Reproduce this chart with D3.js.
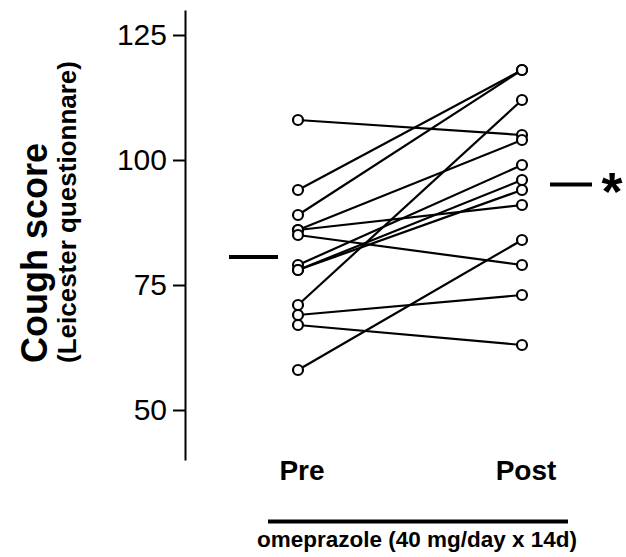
<!DOCTYPE html>
<html>
<head>
<meta charset="utf-8">
<script src="https://cdn.jsdelivr.net/npm/d3@7"></script>
<style>
  body { margin: 0; background: #fff; }
  svg { font-family: "Liberation Sans", Arial, sans-serif; }
</style>
</head>
<body>
<div id="chart"></div>
<script>
// paired cough scores, one entry per subject
var preScores  = [108, 94, 89, 86, 86, 85, 79, 78, 78, 71, 69, 67, 58];
var postScores = [105, 118, 118, 104, 91, 79, 99, 96, 94, 112, 73, 63, 84];
var groups = ["Pre", "Post"];
var yTicks = [50, 75, 100, 125];

var svgW = 626, svgH = 557;
var svg = d3.select("#chart").append("svg").attr("width", svgW).attr("height", svgH);

var xScale = d3.scalePoint().domain(groups).range([298, 522]);
var yScale = d3.scaleLinear().domain([40, 130]).range([460, 10]);

var yAxis = d3.axisLeft(yScale).tickValues(yTicks).tickSize(12).tickPadding(6).tickSizeOuter(0);
var gy = svg.append("g").attr("transform", "translate(185,0)").call(yAxis);
gy.select(".domain").attr("stroke", "#000").attr("stroke-width", 2);
gy.selectAll(".tick line").attr("stroke", "#000").attr("stroke-width", 2);
gy.selectAll(".tick text").attr("font-size", "30px").attr("fill", "#000")
  .attr("font-family", "'Liberation Sans', Arial, sans-serif");

var pairs = preScores.map(function (d, i) {
  return { pre: d, post: postScores[i] };
});

svg.selectAll(".pair").data(pairs).enter().append("line").attr("class", "pair")
  .attr("x1", xScale("Pre")).attr("x2", xScale("Post"))
  .attr("y1", function (d) { return yScale(d.pre); })
  .attr("y2", function (d) { return yScale(d.post); })
  .attr("stroke", "#000").attr("stroke-width", 2.2);

var dots = [];
pairs.forEach(function (d) {
  dots.push({ g: "Pre", v: d.pre });
  dots.push({ g: "Post", v: d.post });
});
svg.selectAll(".dot").data(dots).enter().append("circle").attr("class", "dot")
  .attr("cx", function (d) { return xScale(d.g); })
  .attr("cy", function (d) { return yScale(d.v); })
  .attr("r", 5).attr("fill", "#fff").attr("stroke", "#000").attr("stroke-width", 2.2);

// group means
var preMean = d3.mean(preScores), postMean = d3.mean(postScores);
svg.append("line").attr("x1", xScale("Pre") - 69).attr("x2", xScale("Pre") - 20)
  .attr("y1", yScale(preMean)).attr("y2", yScale(preMean))
  .attr("stroke", "#000").attr("stroke-width", 4);
svg.append("line").attr("x1", xScale("Post") + 28).attr("x2", xScale("Post") + 70)
  .attr("y1", yScale(postMean)).attr("y2", yScale(postMean))
  .attr("stroke", "#000").attr("stroke-width", 4);
svg.append("text").text("*").attr("x", xScale("Post") + 90).attr("y", yScale(postMean) + 25)
  .attr("text-anchor", "middle").attr("font-size", "54px").attr("font-weight", "bold");

// group labels
svg.selectAll(".glab").data(groups).enter().append("text").attr("class", "glab")
  .text(function (d) { return d; })
  .attr("x", function (d) { return xScale(d) + 4; }).attr("y", 480)
  .attr("text-anchor", "middle").attr("font-size", "28px").attr("font-weight", "bold");

svg.append("line").attr("x1", 268).attr("x2", 568).attr("y1", 521.5).attr("y2", 521.5)
  .attr("stroke", "#000").attr("stroke-width", 4);
svg.append("text").text("omeprazole (40 mg/day x 14d)").attr("x", 417).attr("y", 547)
  .attr("text-anchor", "middle").attr("font-size", "22.5px").attr("font-weight", "bold");

// y titles
svg.append("text").text("Cough score").attr("transform", "translate(47,363) rotate(-90)")
  .attr("font-size", "36px").attr("font-weight", "bold");
svg.append("text").text("(Leicester questionnare)").attr("transform", "translate(76,363) rotate(-90)")
  .attr("font-size", "26px").attr("font-weight", "bold");
</script>
</body>
</html>
